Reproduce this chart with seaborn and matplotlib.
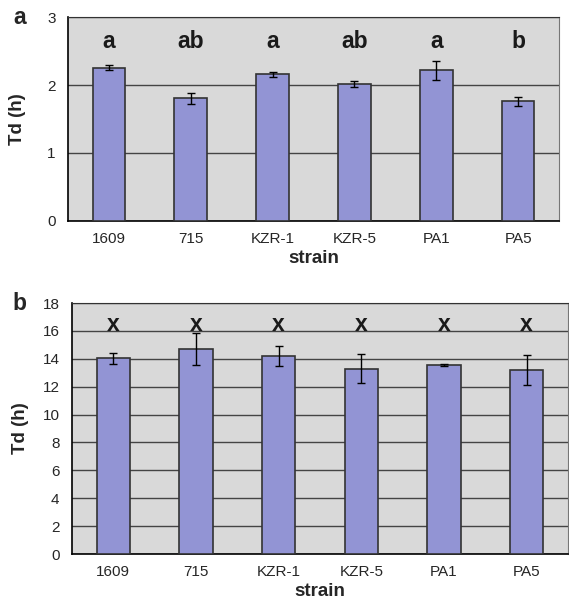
import numpy as np
import pandas as pd
import matplotlib as mpl
mpl.use('Agg')
import matplotlib.pyplot as plt
from matplotlib.ticker import FixedLocator, NullFormatter
import seaborn as sns

sns.set_style("white")
plt.rcParams['font.family'] = ['Liberation Sans', 'DejaVu Sans']

# data
strains = ["1609", "715", "KZR-1", "KZR-5", "PA1", "PA5"]
td_a = [2.26, 1.81, 2.16, 2.02, 2.22, 1.76]
err_a = [0.04, 0.08, 0.04, 0.04, 0.14, 0.06]
letters_a = ["a", "ab", "a", "ab", "a", "b"]
td_b = [14.05, 14.7, 14.2, 13.3, 13.55, 13.2]
err_b = [0.4, 1.15, 0.75, 1.05, 0.05, 1.1]
letters_b = ["x", "x", "x", "x", "x", "x"]

bar_color = "#9294d4"
bg = "#d9d9d9"

fig = plt.figure(figsize=(5.69, 6.07), dpi=100)
ax_a = fig.add_axes([0.1195, 0.6364, 0.863, 0.3348])
ax_b = fig.add_axes([0.1265, 0.0873, 0.8717, 0.4135])


def panel(ax, vals, errs, letters, ymax, ystep, letter_y, tag, tag_x, ypad):
    df = pd.DataFrame({"strain": strains, "td": vals})
    sns.barplot(data=df, x="strain", y="td", color=bar_color, width=0.4,
                edgecolor="#333333", linewidth=1.2, saturation=1, ax=ax, zorder=3)
    ax.errorbar(np.arange(len(vals)), vals, yerr=errs, fmt="none", ecolor="black",
                elinewidth=1, capsize=3, capthick=1, zorder=4)
    for i, lab in enumerate(letters):
        ax.text(i, letter_y, lab, ha="center", va="center", fontsize=16.5,
                fontweight="bold", color="#1a1a1a")
    ax.set_facecolor(bg)
    ax.set_xlim(-0.5, len(vals) - 0.5)
    ax.set_ylim(0, ymax)
    ax.set_yticks(np.arange(0, ymax + 0.01, ystep))
    ax.yaxis.grid(True, color="#444444", linewidth=1)
    ax.set_axisbelow(True)
    # ticks at category boundaries, labels at centres
    ax.xaxis.set_major_locator(FixedLocator(np.arange(-0.5, len(vals), 1)))
    ax.xaxis.set_major_formatter(NullFormatter())
    ax.xaxis.set_minor_locator(FixedLocator(np.arange(len(vals))))
    ax.set_xticklabels(strains, minor=True)
    ax.tick_params(axis="x", which="major", length=4, width=1, direction="out", color="black")
    ax.tick_params(axis="x", which="minor", length=0, labelsize=11, pad=8)
    ax.tick_params(axis="y", length=5, width=1, color="black", labelsize=11, pad=4)
    ax.set_xlabel("strain", fontsize=13.5, fontweight="bold", labelpad=3)
    ax.set_ylabel("Td (h)", fontsize=13.5, fontweight="bold", labelpad=ypad)
    for s in ["left", "bottom"]:
        ax.spines[s].set_color("black")
        ax.spines[s].set_linewidth(1.2)
    ax.spines["top"].set_color("#333333")
    ax.spines["right"].set_color("#777777")
    ax.text(tag_x, 1.0, tag, transform=ax.transAxes, fontsize=16.5,
            fontweight="bold", ha="center", va="center")


panel(ax_a, td_a, err_a, letters_a, 3, 1, 2.64, "a", -0.098, 15)
panel(ax_b, td_b, err_b, letters_b, 18, 2, 16.45, "b", -0.105, 10)

fig.savefig("out.png", dpi=100)
